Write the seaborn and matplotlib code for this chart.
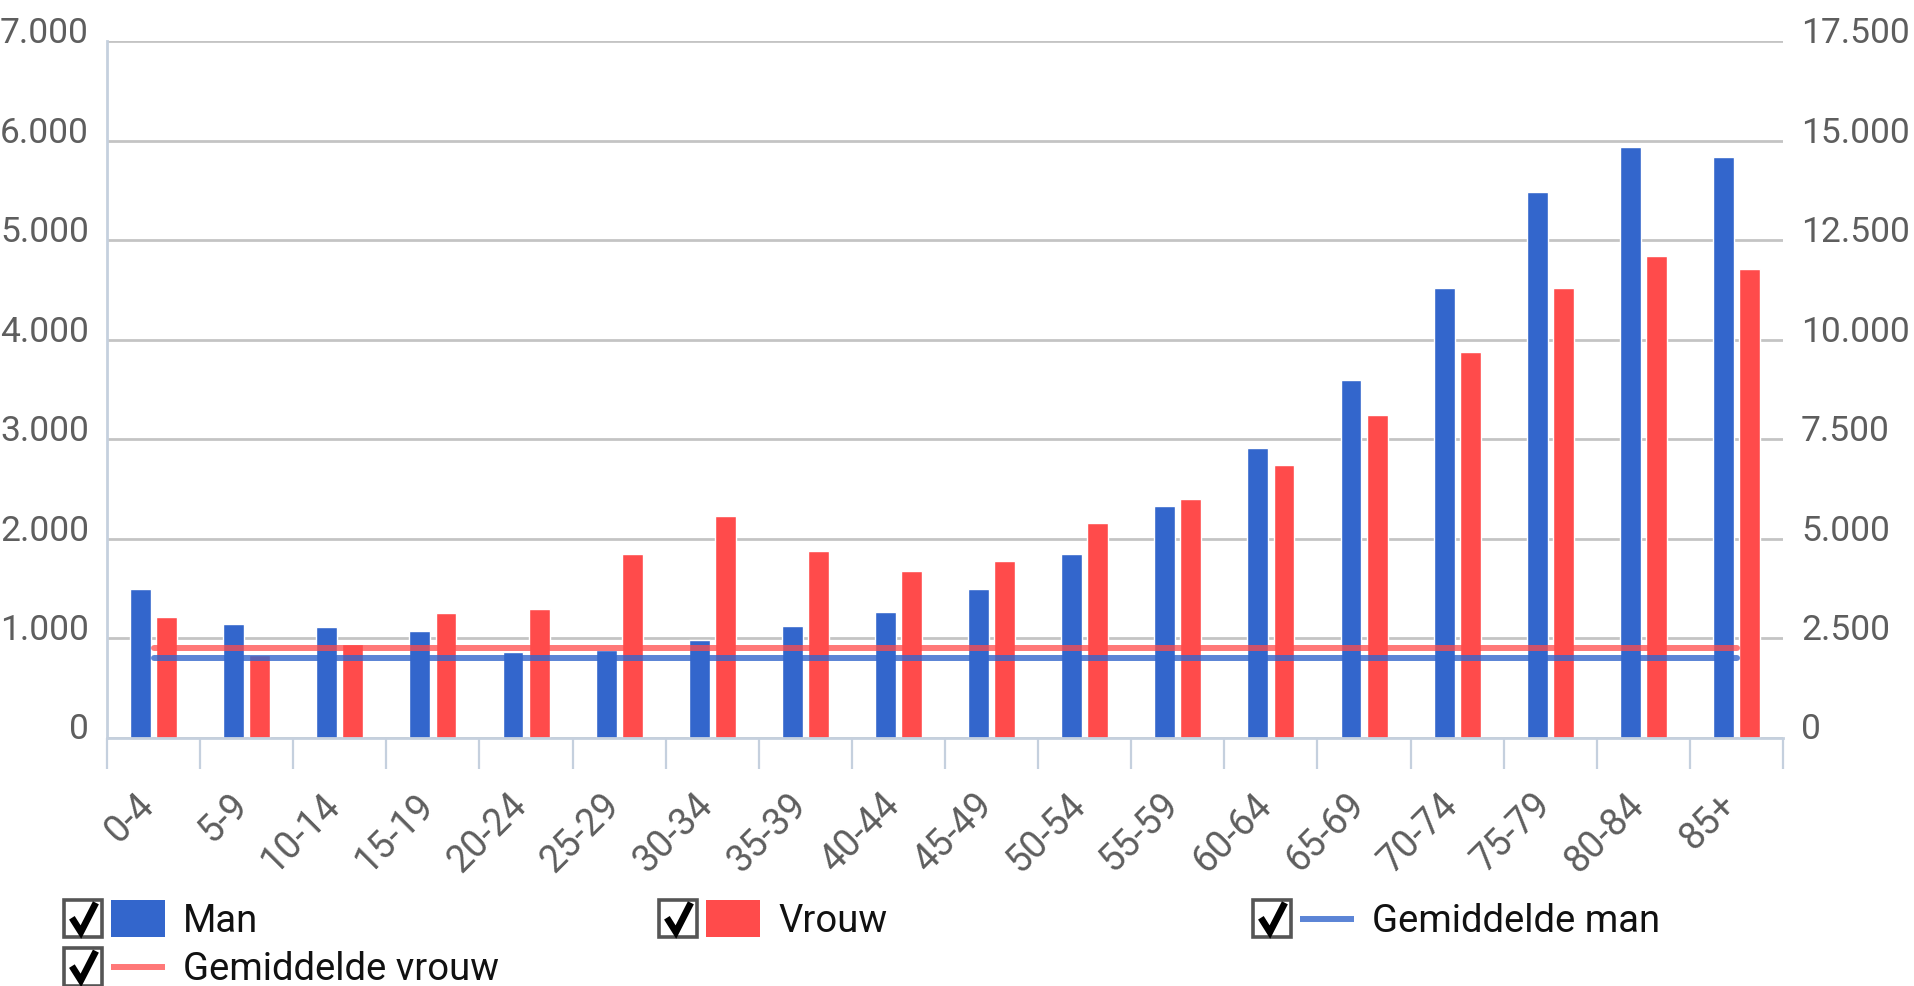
import numpy as np
import pandas as pd
import matplotlib
matplotlib.use("Agg")
import matplotlib.pyplot as plt
import seaborn as sns
from matplotlib.ticker import FixedLocator, FuncFormatter
from matplotlib.transforms import ScaledTranslation
from matplotlib.legend_handler import HandlerBase
from matplotlib.patches import Rectangle
from matplotlib.lines import Line2D

# ---------------- data ----------------
leeftijd = ["0-4", "5-9", "10-14", "15-19", "20-24", "25-29", "30-34", "35-39",
            "40-44", "45-49", "50-54", "55-59", "60-64", "65-69", "70-74",
            "75-79", "80-84", "85+"]
man = [1490, 1145, 1112, 1075, 860, 880, 976, 1119, 1258, 1498, 1844, 2329,
       2913, 3600, 4520, 5487, 5939, 5835]
vrouw = [1210, 830, 939, 1254, 1288, 1844, 2224, 1878, 1671, 1773, 2156, 2400,
         2740, 3247, 3873, 4520, 4840, 4707]
gemiddelde_man = 2010      # right axis
gemiddelde_vrouw = 2240    # right axis
links_ticks = [0, 1000, 2000, 3000, 4000, 5000, 6000, 7000]
rechts_ticks = [0, 2500, 5000, 7500, 10000, 12500, 15000, 17500]
reeksen = ["Man", "Vrouw", "Gemiddelde man", "Gemiddelde vrouw"]

# ---------------- style ----------------
sns.set_style("white")
plt.rcParams["font.family"] = ["Roboto", "DejaVu Sans"]

BLAUW = "#3366cc"
ROOD = "#ff4b4b"
AS_KLEUR = "#c5d0de"
TEKST_GRIJS = "#5e5e5e"
TICK_FS = 25.5
XTICK_FS = 27

n = len(leeftijd)
df = pd.DataFrame({
    "leeftijd": leeftijd * 2,
    "waarde": man + vrouw,
    "geslacht": ["Man"] * n + ["Vrouw"] * n,
})

fig = plt.figure(figsize=(19.15, 9.86), dpi=100)
ax = fig.add_axes([0.0559, 0.252, 0.8752, 0.706])

sns.barplot(data=df, x="leeftijd", y="waarde", hue="geslacht", order=leeftijd,
            hue_order=["Man", "Vrouw"], palette={"Man": BLAUW, "Vrouw": ROOD},
            saturation=1, width=0.56, gap=0.2, edgecolor="white", linewidth=1.0,
            legend=False, ax=ax)

ax2 = ax.twinx()
sns.pointplot(x=leeftijd, y=[gemiddelde_vrouw] * n, color=ROOD, errorbar=None,
              marker="", linewidth=4.3, alpha=0.75, ax=ax2)
sns.pointplot(x=leeftijd, y=[gemiddelde_man] * n, color=BLAUW, errorbar=None,
              marker="", linewidth=4.3, alpha=0.8, ax=ax2)

fmt = FuncFormatter(lambda v, p: f"{int(round(v)):,}".replace(",", "."))

# left axis
ax.set_ylim(0, 7000)
ax.yaxis.set_major_locator(FixedLocator(links_ticks))
ax.yaxis.set_major_formatter(fmt)
ax.tick_params(axis="y", length=0, pad=13, labelsize=TICK_FS, labelcolor=TEKST_GRIJS)
ax.grid(axis="y", color="#c4c4c4", linewidth=2.0)
ax.grid(axis="x", visible=False)
ax.set_axisbelow(True)
for s in ["top", "right"]:
    ax.spines[s].set_visible(False)
for s in ["left", "bottom"]:
    ax.spines[s].set_color(AS_KLEUR)
    ax.spines[s].set_linewidth(2.0)
ax.set_xlabel("")
ax.set_ylabel("")

# x axis
ax.set_xlim(-0.5, n - 0.5)
ax.set_xticks(range(n))
ax.set_xticklabels(leeftijd, rotation=45, ha="right", va="top",
                   rotation_mode="anchor")
ax.set_xticks(np.arange(n + 1) - 0.5, minor=True)
ax.tick_params(axis="x", which="major", length=0, pad=35, labelsize=XTICK_FS,
               labelcolor=TEKST_GRIJS)
ax.tick_params(axis="x", which="minor", length=22, width=1.6, color=AS_KLEUR,
               direction="out", bottom=True)

# right axis
ax2.set_ylim(0, 17500)
ax2.yaxis.set_major_locator(FixedLocator(rechts_ticks))
ax2.yaxis.set_major_formatter(fmt)
ax2.tick_params(axis="y", length=0, pad=13, labelsize=TICK_FS, labelcolor=TEKST_GRIJS)
ax2.grid(False)
for s in ax2.spines.values():
    s.set_visible(False)
ax2.set_ylabel("")

# y tick labels sit slightly above their gridline
up = ScaledTranslation(0, 8 / 72, fig.dpi_scale_trans)
for lab in ax.get_yticklabels() + ax2.get_yticklabels():
    lab.set_transform(lab.get_transform() + up)
links = ScaledTranslation(-13 / 72, 0, fig.dpi_scale_trans)
for lab in ax.get_xticklabels():
    lab.set_transform(lab.get_transform() + links)


# ---------------- legend with check boxes ----------------
class CheckHandler(HandlerBase):
    def __init__(self, kind, color, alpha=1.0):
        super().__init__()
        self.kind = kind
        self.color = color
        self.alpha = alpha

    def create_artists(self, legend, orig_handle, xdescent, ydescent, width,
                       height, fontsize, trans):
        x0, y0 = -xdescent, -ydescent
        bw = bh = 27.0
        by = y0 + (height - bh) / 2
        box = Rectangle((x0 + 1, by), bw, bh, facecolor="white",
                        edgecolor="#555555", linewidth=2.6, transform=trans)
        check = Line2D([x0 + 1 + 0.20 * bw, x0 + 1 + 0.44 * bw, x0 + 1 + 0.84 * bw],
                       [by + 0.52 * bh, by + 0.14 * bh, by + 0.92 * bh],
                       color="black", linewidth=4.8, solid_joinstyle="miter",
                       solid_capstyle="butt", transform=trans)
        sx = x0 + bw + 7.5
        sw = width - (bw + 7.5)
        if self.kind == "bar":
            sh = 27.0
            sym = Rectangle((sx, y0 + (height - sh) / 2), sw, sh,
                            facecolor=self.color, edgecolor="none", transform=trans)
        else:
            ym = y0 + height / 2
            sym = Line2D([sx, sx + sw], [ym, ym], color=self.color, linewidth=4.3,
                         alpha=self.alpha, solid_capstyle="butt", transform=trans)
        return [box, check, sym]


LEG_FS = 27.5
posities = [(63 / 1915, 0.067), (658 / 1915, 0.067), (1252 / 1915, 0.067),
            (63 / 1915, 0.018)]
soorten = [("bar", BLAUW, 1.0), ("bar", ROOD, 1.0), ("line", BLAUW, 0.8),
           ("line", ROOD, 0.75)]
for naam, pos, (kind, kleur, alpha) in zip(reeksen, posities, soorten):
    proxy = Line2D([], [])
    fig.legend(handles=[proxy], labels=[naam],
               handler_map={proxy: CheckHandler(kind, kleur, alpha)},
               loc="center left", bbox_to_anchor=pos, frameon=False,
               borderpad=0, borderaxespad=0, fontsize=LEG_FS,
               handlelength=73.4 / LEG_FS, handleheight=30 / LEG_FS,
               handletextpad=13 / LEG_FS, labelcolor="#111111")

fig.savefig("out.png", dpi=100)
